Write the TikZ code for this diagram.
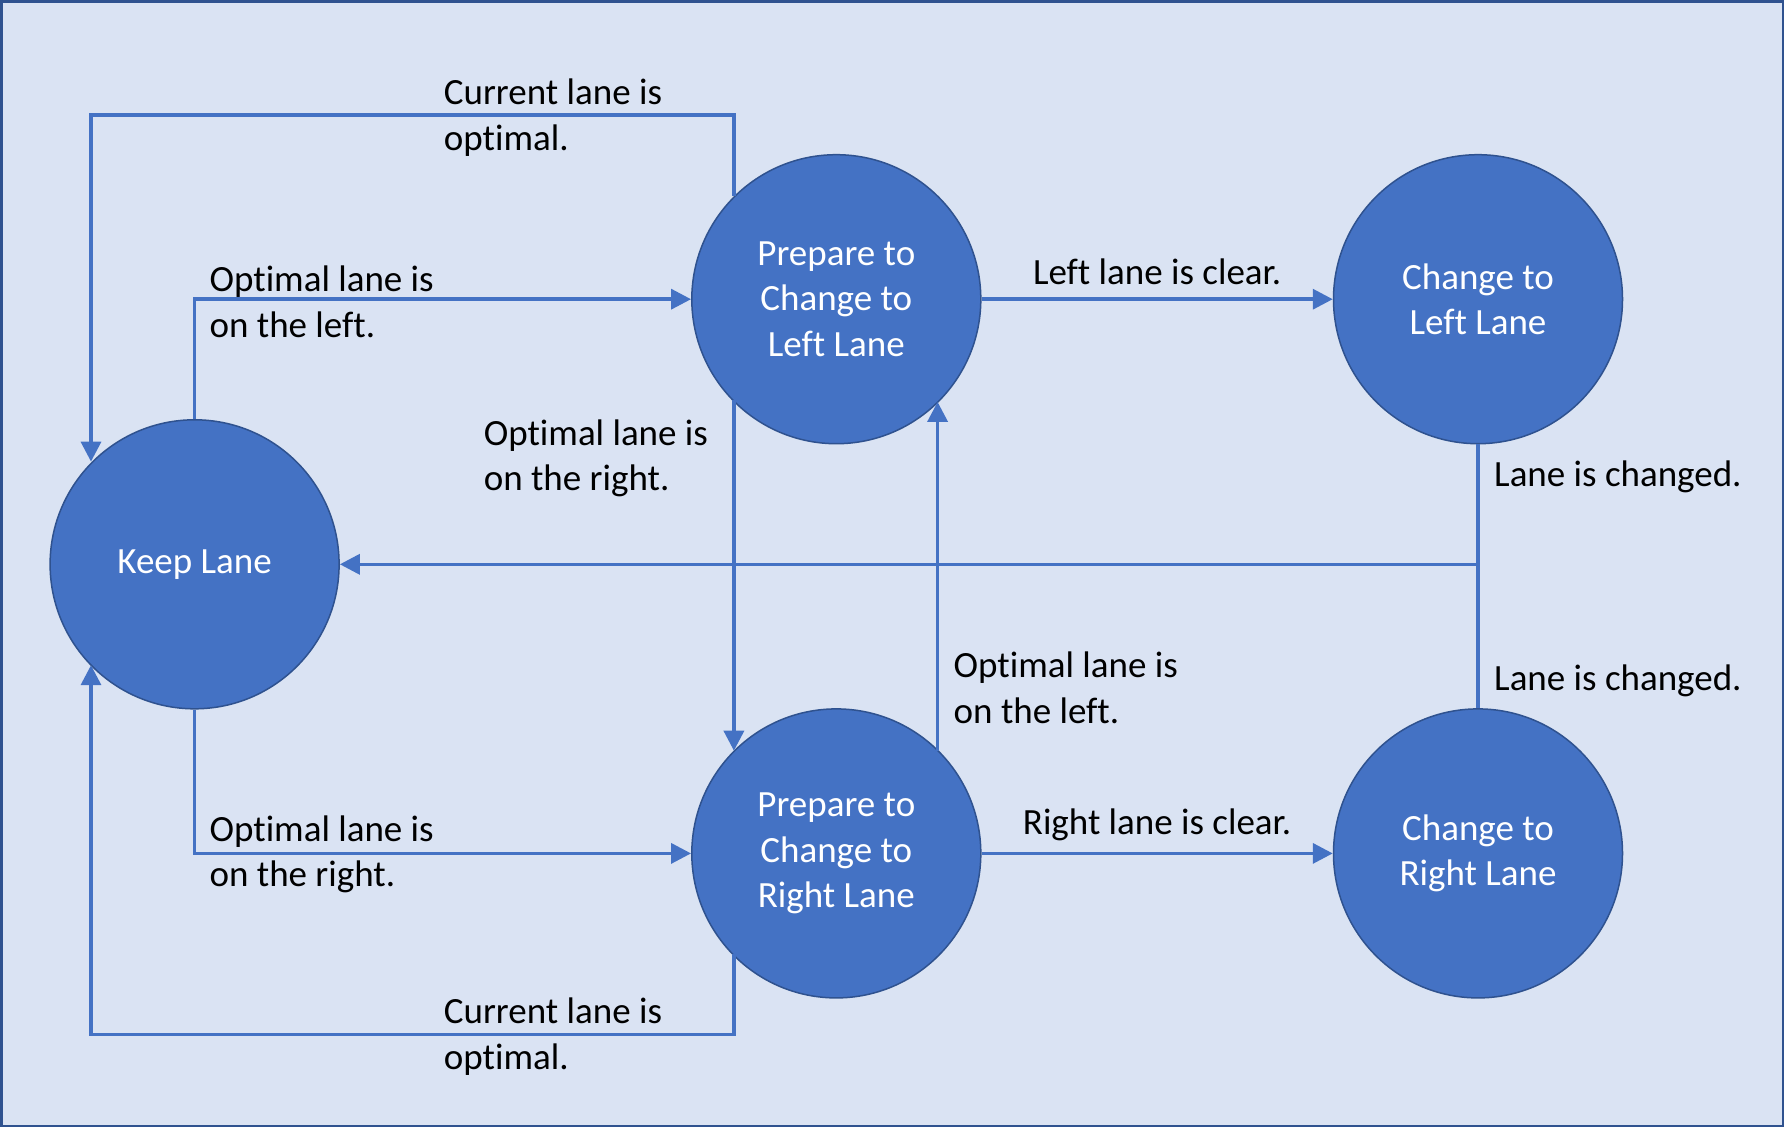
\documentclass[tikz,border=0pt]{standalone}
\usepackage{fontspec}
\setmainfont{Carlito}[RawFeature=-liga]
\usetikzlibrary{arrows.meta}
\definecolor{bgblue}{HTML}{DAE3F3}
\definecolor{stateblue}{HTML}{4472C4}
\definecolor{edgeblue}{HTML}{2F528F}
\tikzset{
	state/.style={circle,fill=stateblue,draw=edgeblue,line width=1.5pt,minimum size=289pt,inner sep=0pt,text=white,align=center},
	flow/.style={draw=stateblue,line width=3.5pt,-{Triangle[length=20pt,width=20pt]}},
	plain/.style={draw=stateblue,line width=3.5pt},
	lbl/.style={anchor=west,inner sep=0pt,align=left,yshift=-2.5pt}
}
\begin{document}
\begin{tikzpicture}[x=1pt,y=-1pt,font=\fontsize{37}{45.5}\selectfont]
		% background
		\fill [bgblue,draw=edgeblue,line width=2.5pt] (1.25,1.25) rectangle (1782.75,1125.75);
		\useasboundingbox (0,0) rectangle (1784,1127);
		\def\rowa{299.2}
		\def\rowb{853.4}
		% states
			\node [state] (keep) at (194.6,564.3) {Keep Lane};
			\node [state] (prepl) at (836.3,\rowa) {Prepare to\\Change to\\Left Lane};
			\node [state] (chgl) at (1478,\rowa) {Change to\\Left Lane};
			\node [state] (prepr) at (836.3,\rowb) {Prepare to\\Change to\\Right Lane};
			\node [state] (chgr) at (1478,\rowb) {Change to\\Right Lane};
		% loop corners and rails
			\coordinate (tl) at (91,114.9);
			\coordinate (bl) at (91,1034.3);
			\coordinate (lx) at (733.9,0);
			\coordinate (rx) at (937.6,0);
			\coordinate (merge) at (chgl.south |- keep.east);
		% transitions
			\draw [flow] (lx |- prepl.135.1) |- (tl) -- (tl |- keep.135.8);
			\draw [flow] (lx |- prepr.224.9) |- (bl) -- (bl |- keep.224.2);
			\draw [flow] (keep.north) |- (prepl.west);
			\draw [flow] (keep.south) |- (prepr.west);
			\draw [flow] (lx |- prepl.224.9) -- (lx |- prepr.135.1);
			\draw [flow] (rx |- prepr.45.5) -- (rx |- prepl.-45.5);
			\draw [flow] (prepl.east) -- (chgl.west);
			\draw [flow] (prepr.east) -- (chgr.west);
			\draw [plain] (chgl.south) -- (chgr.north);
			\draw [flow] (merge) -- (keep.east);
		% labels
			\node [lbl] (curtop) at (443.7,114.9) {Current lane is\\optimal.};
			\node [lbl] (optl) at (209.4,299.2) {Optimal lane is\\on the left.};
			\node [lbl] (optr) at (483.6,455.7) {Optimal lane is\\on the right.};
			\node [lbl,anchor=center] (lclear) at (1157.1,269.7) {Left lane is clear.};
			\node [lbl] (donel) at (1494,474.5) {Lane is changed.};
			\node [lbl] (optlb) at (953.5,685.5) {Optimal lane is\\on the left.};
			\node [lbl] (doner) at (1494,678.1) {Lane is changed.};
			\node [lbl] (optrb) at (209.4,851.6) {Optimal lane is\\on the right.};
			\node [lbl,anchor=center] (rclear) at (1157.1,822.6) {Right lane is clear.};
			\node [lbl] (curbot) at (443.7,1034.3) {Current lane is\\optimal.};
	\end{tikzpicture}
\end{document}
